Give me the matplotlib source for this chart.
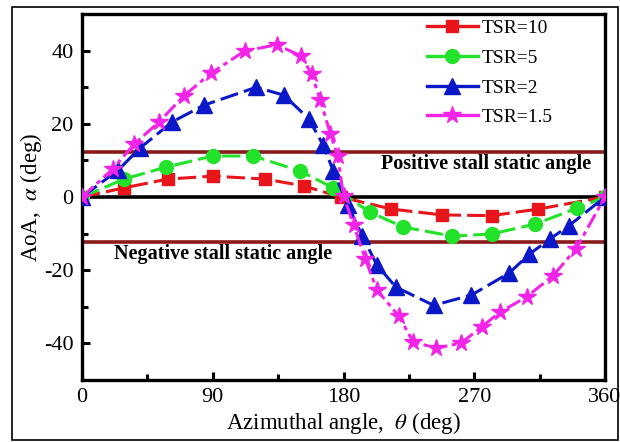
import numpy as np
import matplotlib
matplotlib.use("Agg")
from matplotlib import pyplot as plt
from matplotlib.patches import Rectangle
from matplotlib.lines import Line2D

plt.rcParams['font.family'] = ['Liberation Serif', 'DejaVu Serif']
plt.rcParams['mathtext.fontset'] = 'stix'
plt.rcParams['axes.unicode_minus'] = False

# TSR = 10
th10 = [0, 29, 59, 90, 126, 153, 178, 213, 248, 282, 314, 360]
aoa10 = [0, 2.5, 4.9, 5.7, 4.9, 3.0, 0.0, -3.3, -4.9, -5.1, -3.3, 0]

# TSR = 5
th5 = [0, 29, 58, 90, 118, 150, 173, 198, 221, 255, 282, 312, 341, 360]
aoa5 = [0, 4.9, 8.2, 11.2, 11.2, 7.1, 2.5, -4.1, -8.2, -10.7, -10.1, -7.4, -3.0, 0]

# TSR = 2
th2 = [0, 25, 40, 62, 84, 120, 139, 156, 166, 173, 183, 193, 203, 216,
       242, 268, 294, 308, 322, 335, 360]
aoa2 = [0, 7.4, 13.4, 20.5, 25.1, 30.0, 27.8, 21.4, 14.2, 7.1, -2.2, -10.7,
        -18.6, -24.6, -29.6, -26.8, -20.8, -15.6, -11.5, -7.9, 0]

# TSR = 1.5
th15 = [0, 21, 36, 53, 70, 89, 112, 134, 151, 158, 164, 171, 176, 180,
        187, 195, 203, 218, 228, 244, 261, 275, 288, 306, 324, 340, 360]
aoa15 = [0, 7.6, 14.5, 20.5, 27.6, 33.9, 39.9, 41.6, 38.5, 33.6, 26.5, 17.2,
         11.2, 0.3, -7.7, -16.9, -25.4, -32.5, -39.6, -41.3, -39.9, -35.5,
         -31.4, -27.3, -21.6, -14.2, 0]

labels = ['TSR=10', 'TSR=5', 'TSR=2', 'TSR=1.5']
colors = ['#e8161b', '#22e22a', '#0b18c8', '#f224e8']
markers = ['s', 'o', '^', '*']
msizes = [9, 10, 11, 13]

stall = 12.3

fig = plt.figure(figsize=(6.2, 4.42), dpi=100)
ax = fig.add_axes([0.1323, 0.1403, 0.8435, 0.828])

# outer frame
fig.patches.append(Rectangle((0.019, 0.005), 0.978, 0.98, transform=fig.transFigure,
                             fill=False, edgecolor='black', linewidth=1.2))

ax.axhline(stall, color='#8b1a1a', lw=2.6, zorder=1)
ax.axhline(-stall, color='#8b1a1a', lw=2.6, zorder=1)
ax.axhline(0, color='black', lw=2.6, zorder=1)

dash = (0, (6, 2))
ax.plot(th10, aoa10, color=colors[0], ls=dash, lw=2.2, marker=markers[0], ms=msizes[0], zorder=3)
ax.plot(th5, aoa5, color=colors[1], ls=dash, lw=2.2, marker=markers[1], ms=msizes[1], zorder=3)
ax.plot(th2, aoa2, color=colors[2], ls=dash, lw=2.2, marker=markers[2], ms=msizes[2], zorder=4)
ax.plot(th15, aoa15, color=colors[3], ls=(0, (5, 1.5, 1.5, 1.5)), lw=2.2,
        marker=markers[3], ms=msizes[3], zorder=5)

ax.text(278, 8.9, 'Positive stall static angle', fontsize=14.5, fontweight='bold',
        ha='center', va='center')
ax.text(97, -15.6, 'Negative stall static angle', fontsize=14.5, fontweight='bold',
        ha='center', va='center')

ax.set_xlim(0, 360)
ax.set_ylim(-50, 50)
ax.set_xticks([0, 90, 180, 270, 360])
ax.set_xticks([45, 135, 225, 315], minor=True)
ax.set_yticks([-40, -20, 0, 20, 40])
ax.set_yticks([-30, -10, 10, 30], minor=True)
ax.tick_params(which='both', direction='in', width=2.2, labelsize=16)
ax.tick_params(which='major', length=6, pad=6)
ax.tick_params(which='minor', length=4)
for s in ax.spines.values():
    s.set_linewidth(2.4)

ax.set_xlabel(r'Azimuthal angle,  $\theta$ (deg)', fontsize=16.5, labelpad=2)
ax.set_ylabel(r'AoA,  $\alpha$ (deg)', fontsize=16.5, labelpad=0)

# legend handles drawn with solid lines
handles = [Line2D([], [], color=c, lw=2.4, marker=m, ms=s)
           for c, m, s in zip(colors, markers, msizes)]
ax.legend(handles, labels, loc='upper left', bbox_to_anchor=(0.634, 1.022), frameon=False,
          fontsize=14, handlelength=2.6, handletextpad=0.2, labelspacing=0.62,
          borderpad=0.2)

fig.savefig('out.png', dpi=100)
